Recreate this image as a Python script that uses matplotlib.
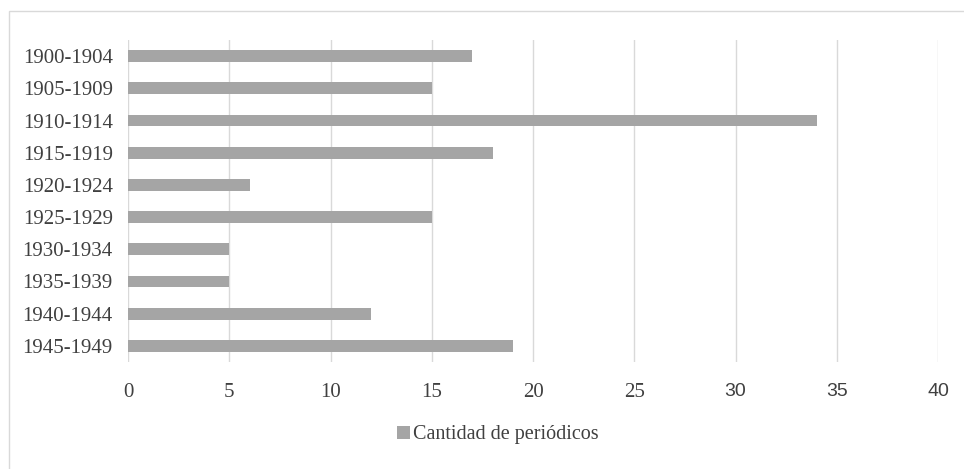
import matplotlib
matplotlib.use("Agg")
import matplotlib.pyplot as plt
from matplotlib.patches import Rectangle

# Data
periods = ["1900-1904", "1905-1909", "1910-1914", "1915-1919", "1920-1924",
           "1925-1929", "1930-1934", "1935-1939", "1940-1944", "1945-1949"]
counts = [17, 15, 34, 18, 6, 15, 5, 5, 12, 19]
x_ticks = [0, 5, 10, 15, 20, 25, 30, 35, 40]
series_name = "Cantidad de periódicos"

bar_color = "#a5a5a5"
grid_color = "#d9d9d9"
text_color = "#404040"

plt.rcParams["font.family"] = ["Liberation Serif", "DejaVu Serif"]

W, H = 964, 469
fig = plt.figure(figsize=(W / 100, H / 100), dpi=100)
fig.patch.set_facecolor("white")

# Light frame around the chart area
fig.add_artist(Rectangle((9 / W, -0.2), 1.5, 1.2 - 11 / H,
                         transform=fig.transFigure, fill=False,
                         edgecolor="#d9d9d9", linewidth=1.0))

ax = fig.add_axes([128 / W, 1 - 362 / H, (938 - 128) / W, (362 - 40) / H])
y = list(range(len(periods)))
ax.barh(y, counts, height=0.37, color=bar_color, label=series_name, zorder=3)

ax.set_xlim(0, 40)
ax.set_ylim(len(periods) - 0.5, -0.5)
ax.set_xticks(x_ticks)
ax.set_xticklabels([str(v) for v in x_ticks])
ax.set_yticks(y)
ax.set_yticklabels(periods)

ax.grid(axis="x", color=grid_color, linewidth=1.0, zorder=0)
ax.grid(axis="y", visible=False)
for s in ax.spines.values():
    s.set_visible(False)
ax.tick_params(axis="both", length=0, colors=text_color, labelsize=15)
ax.tick_params(axis="y", pad=11)
ax.tick_params(axis="x", pad=15)

for lbl in ax.get_xticklabels():
    if lbl.get_text() in ("30", "35", "40"):
        lbl.set_fontfamily(["Liberation Sans", "DejaVu Sans"])
        lbl.set_fontsize(14)

leg = fig.legend(loc="center", bbox_to_anchor=(498 / W, 1 - 435 / H),
                 frameon=False, fontsize=14.5, handlelength=0.65, handleheight=0.65,
                 handletextpad=0.15, labelcolor=text_color)

fig.savefig("out.png", dpi=100)
